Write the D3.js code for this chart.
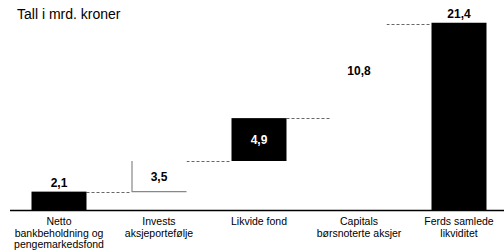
<!DOCTYPE html>
<html><head><meta charset="utf-8">
<script src="https://cdn.jsdelivr.net/npm/d3@7/dist/d3.min.js"></script>
<style>body{margin:0;background:#fff}svg{display:block}text{font-family:"Liberation Sans",Arial,sans-serif}</style>
</head><body><div id="c"></div>
<script>
const categories = ["Netto|bankbeholdning og|pengemarkedsfond", "Invests|aksjeportefølje", "Likvide fond", "Capitals|børsnoterte aksjer", "Ferds samlede|likviditet"];
const values = [2.1, 3.5, 4.9, 10.8, 21.4];
const barTypes = ["total", "delta", "delta", "delta", "total"];
const valueLabels = ["2,1", "3,5", "4,9", "10,8", "21,4"];
const title = "Tall i mrd. kroner";

const W = 504, H = 252, baseY = 210;
const svg = d3.select("#c").append("svg").attr("width", W).attr("height", H);

const x = d3.scaleBand().domain(categories).range([9, 509]).paddingInner(0.45).paddingOuter(0.225);
const y = d3.scaleLinear().domain([0, 24]).range([baseY, 0]);

// compute waterfall
let run = 0;
const bars = categories.map((c, i) => {
  let lo, hi;
  if (barTypes[i] === "total") { lo = 0; hi = values[i]; run = values[i]; }
  else { lo = run; hi = run + values[i]; run = hi; }
  return { c, i, lo, hi, v: values[i], label: valueLabels[i] };
});
const fills = ["#000", "#fff", "#000", "#fff", "#000"];

// connectors
for (let i = 0; i < bars.length - 1; i++) {
  const lvl = bars[i].hi;
  svg.append("line")
    .attr("x1", x(bars[i].c) + x.bandwidth()).attr("x2", x(bars[i + 1].c))
    .attr("y1", Math.round(y(lvl)) + 0.5).attr("y2", Math.round(y(lvl)) + 0.5)
    .attr("stroke", "#666").attr("stroke-width", 1).attr("stroke-dasharray", "3,2");
}

// bars
svg.selectAll("rect.bar").data(bars).join("rect").attr("class", "bar")
  .attr("x", d => x(d.c)).attr("width", x.bandwidth())
  .attr("y", d => y(d.hi)).attr("height", d => y(d.lo) - y(d.hi))
  .attr("fill", (d, i) => fills[i]);

// invests bar borders (left + bottom, gray)
const inv = bars[1];
svg.append("path")
  .attr("d", `M${x(inv.c) + 0.5},${y(inv.hi)} V${y(inv.lo)} H${x(inv.c) + x.bandwidth()}`)
  .attr("fill", "none").attr("stroke", "#888").attr("stroke-width", 1.2);

// value labels
svg.selectAll("text.val").data(bars).join("text").attr("class", "val")
  .attr("x", d => x(d.c) + x.bandwidth() / 2)
  .attr("y", d => barTypes[d.i] === "total" ? y(d.hi) - 5 : (y(d.lo) + y(d.hi)) / 2 + 4.5)
  .attr("text-anchor", "middle").attr("font-size", 12).attr("font-weight", "bold")
  .attr("fill", (d, i) => fills[i] === "#000" && barTypes[i] === "delta" ? "#fff" : "#000")
  .text(d => d.label);

// axis line
svg.append("line").attr("x1", 10).attr("x2", W).attr("y1", baseY + 0.5).attr("y2", baseY + 0.5)
  .attr("stroke", "#000").attr("stroke-width", 1.6);

// category labels
const xl = svg.selectAll("text.cat").data(categories).join("text").attr("class", "cat")
  .attr("text-anchor", "middle").attr("font-size", 10.5).attr("fill", "#000");
xl.each(function (c) {
  const t = d3.select(this);
  c.split("|").forEach((ln, k) => {
    t.append("tspan").attr("x", x(c) + x.bandwidth() / 2).attr("y", 225 + k * 11.5).text(ln);
  });
});

// title
svg.append("text").attr("x", 17).attr("y", 19).attr("font-size", 14).attr("fill", "#000").text(title);
</script></body></html>
